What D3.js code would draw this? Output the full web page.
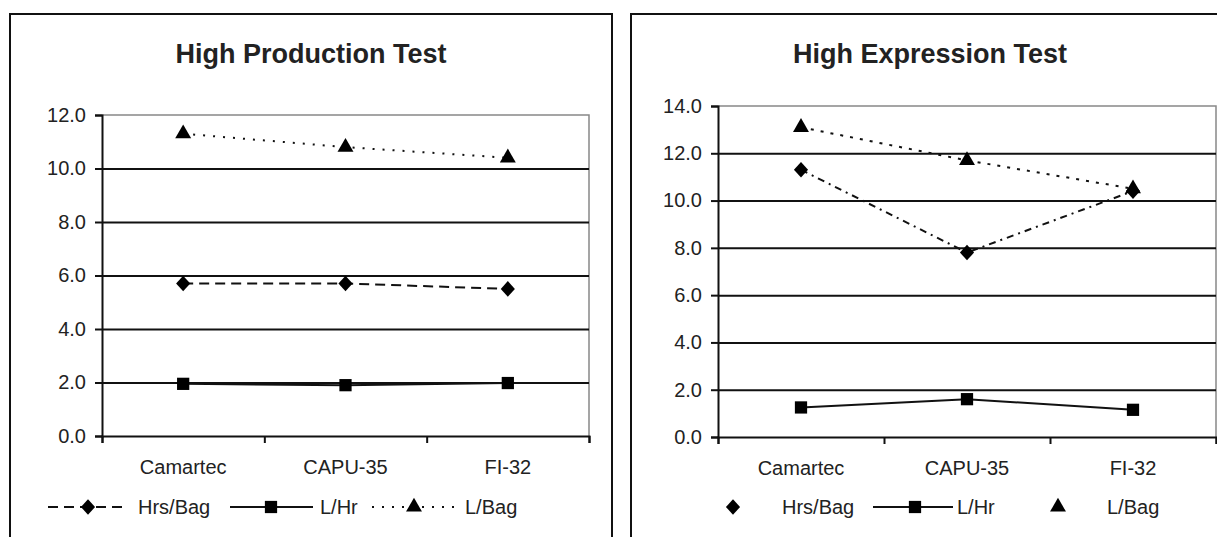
<!DOCTYPE html>
<html>
<head>
<meta charset="utf-8">
<script src="https://cdn.jsdelivr.net/npm/d3@7"></script>
<style>
  body { margin: 0; background: #fff; }
  svg { display: block; font-family: Arial, "Liberation Sans", sans-serif; }
  .tick text { fill: #222; }
</style>
</head>
<body>
<div id="vis"></div>
<script>
// chart values
const CATEGORIES = ["Camartec", "CAPU-35", "FI-32"];
const SERIES_NAMES = ["Hrs/Bag", "L/Hr", "L/Bag"];

const PROD_HRS_BAG = [5.7, 5.7, 5.5];
const PROD_L_HR = [1.95, 1.9, 1.98];
const PROD_L_BAG = [11.3, 10.8, 10.4];
const PROD_TICKS = [0, 2, 4, 6, 8, 10, 12];

const EXPR_HRS_BAG = [11.3, 7.8, 10.4];
const EXPR_L_HR = [1.25, 1.6, 1.15];
const EXPR_L_BAG = [13.1, 11.7, 10.5];
const EXPR_TICKS = [0, 2, 4, 6, 8, 10, 12, 14];

const FRAME_WIDTH = 1217;
const FRAME_HEIGHT = 537;

const FRAME = d3.select("#vis")
    .append("svg")
    .attr("width", FRAME_WIDTH)
    .attr("height", FRAME_HEIGHT);

// squat diamond like the excel marker
const EXCEL_DIAMOND = {
    draw(context, size) {
        const h = Math.sqrt(size) / 2;
        context.moveTo(0, -h * 1.1);
        context.lineTo(h, 0);
        context.lineTo(0, h * 1.1);
        context.lineTo(-h, 0);
        context.closePath();
    }
};

// marker shapes for the three series
const SHAPES = [EXCEL_DIAMOND, d3.symbolSquare, d3.symbolTriangle];
const SHAPE_SIZES = [200, 150, 110];

function drawPanel(opts) {
    // outer box of the panel
    FRAME.append("rect")
        .attr("x", opts.box[0])
        .attr("y", opts.box[1])
        .attr("width", opts.box[2])
        .attr("height", opts.box[3])
        .attr("fill", "none")
        .attr("stroke", "#111")
        .attr("stroke-width", 2);

    FRAME.append("text")
        .attr("x", opts.titleX)
        .attr("y", 63)
        .attr("text-anchor", "middle")
        .attr("font-size", "27px")
        .attr("font-weight", "bold")
        .attr("fill", "#222")
        .text(opts.title);

    const X_BAND = d3.scaleBand()
        .domain(CATEGORIES)
        .range([opts.left, opts.right]);

    const X_EDGE = d3.scaleLinear()
        .domain([0, CATEGORIES.length])
        .range([opts.left, opts.right]);

    const Y_SCALE = d3.scaleLinear()
        .domain([0, d3.max(opts.ticks)])
        .range([opts.bottom, opts.top]);

    // plot area border (grey top and right)
    FRAME.append("path")
        .attr("d", `M${opts.left},${opts.top}H${opts.right}V${opts.bottom}`)
        .attr("fill", "none")
        .attr("stroke", "#888")
        .attr("stroke-width", 1.5);

    // horizontal gridlines
    FRAME.append("g")
        .attr("transform", `translate(${opts.left},0)`)
        .call(d3.axisLeft(Y_SCALE).tickValues(opts.ticks.slice(1, -1))
            .tickSize(-(opts.right - opts.left)).tickFormat(""))
        .call(g => g.select(".domain").remove())
        .call(g => g.selectAll("line").attr("stroke", "#111").attr("stroke-width", 2));

    // y axis with labels
    FRAME.append("g")
        .attr("transform", `translate(${opts.left},0)`)
        .call(d3.axisLeft(Y_SCALE).tickValues(opts.ticks).tickSize(7)
            .tickPadding(9).tickFormat(d3.format(".1f")))
        .attr("font-size", "20px")
        .attr("font-family", "Arial, 'Liberation Sans', sans-serif")
        .call(g => g.select(".domain").attr("stroke", "#111").attr("stroke-width", 2))
        .call(g => g.selectAll("line").attr("stroke", "#111").attr("stroke-width", 2));

    // x axis: ticks between categories
    FRAME.append("g")
        .attr("transform", `translate(0,${opts.bottom})`)
        .call(d3.axisBottom(X_EDGE).tickValues(d3.range(CATEGORIES.length + 1))
            .tickSize(7).tickFormat(""))
        .call(g => g.select(".domain").attr("stroke", "#111").attr("stroke-width", 2))
        .call(g => g.selectAll("line").attr("stroke", "#111").attr("stroke-width", 2));

    FRAME.append("g")
        .attr("transform", `translate(0,${opts.bottom})`)
        .call(d3.axisBottom(X_BAND).tickSize(0).tickPadding(24))
        .attr("font-size", "20px")
        .attr("font-family", "Arial, 'Liberation Sans', sans-serif")
        .call(g => g.select(".domain").remove());

    const xPos = (i) => X_BAND(CATEGORIES[i]) + X_BAND.bandwidth() / 2;

    opts.series.forEach((vals, s) => {
        const line = d3.line()
            .x((d, i) => xPos(i))
            .y((d) => Y_SCALE(d));

        FRAME.append("path")
            .datum(vals)
            .attr("d", line)
            .attr("fill", "none")
            .attr("stroke", "#111")
            .attr("stroke-width", 2)
            .attr("stroke-dasharray", opts.dashes[s]);

        FRAME.selectAll(null)
            .data(vals)
            .enter()
            .append("path")
            .attr("d", d3.symbol().type(SHAPES[s]).size(SHAPE_SIZES[s]))
            .attr("transform", (d, i) => `translate(${xPos(i)},${Y_SCALE(d)})`)
            .attr("fill", "#000");
    });

    // legend
    const LEGEND_Y = 507;
    opts.legend.forEach((item, s) => {
        if (item.lineFrom !== null) {
            FRAME.append("line")
                .attr("x1", item.lineFrom)
                .attr("x2", item.lineTo)
                .attr("y1", LEGEND_Y)
                .attr("y2", LEGEND_Y)
                .attr("stroke", "#111")
                .attr("stroke-width", 2)
                .attr("stroke-dasharray", opts.dashes[s]);
        }
        FRAME.append("path")
            .attr("d", d3.symbol().type(SHAPES[s]).size(SHAPE_SIZES[s]))
            .attr("transform", `translate(${item.marker},${LEGEND_Y})`)
            .attr("fill", "#000");
        FRAME.append("text")
            .attr("x", item.text)
            .attr("y", LEGEND_Y)
            .attr("dy", "0.35em")
            .attr("font-size", "20px")
            .attr("fill", "#222")
            .text(SERIES_NAMES[s]);
    });
}

drawPanel({
    title: "High Production Test",
    titleX: 311,
    box: [10, 14, 602, 540],
    left: 102, right: 589, top: 115, bottom: 436,
    ticks: PROD_TICKS,
    series: [PROD_HRS_BAG, PROD_L_HR, PROD_L_BAG],
    dashes: ["10,6", null, "2,8"],
    legend: [
        {lineFrom: 48, lineTo: 128, marker: 88, text: 138},
        {lineFrom: 230, lineTo: 313, marker: 271, text: 320},
        {lineFrom: 372, lineTo: 456, marker: 414, text: 465}
    ]
});

drawPanel({
    title: "High Expression Test",
    titleX: 930,
    box: [631, 14, 600, 540],
    left: 718, right: 1216, top: 106, bottom: 437,
    ticks: EXPR_TICKS,
    series: [EXPR_HRS_BAG, EXPR_L_HR, EXPR_L_BAG],
    dashes: ["7,5,2,5", null, "3,7"],
    legend: [
        {lineFrom: null, marker: 733, text: 782},
        {lineFrom: 873, lineTo: 953, marker: 915, text: 957},
        {lineFrom: null, marker: 1058, text: 1107}
    ]
});
</script>
</body>
</html>
